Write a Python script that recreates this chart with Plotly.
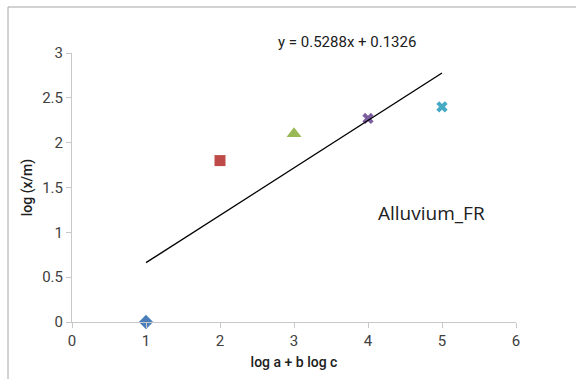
import plotly.graph_objects as go

x_vals = [1, 2, 3, 4, 5]
y_vals = [0.0, 1.80, 2.10, 2.27, 2.40]
colors = ["#4a7ebb", "#be4b48", "#98b954", "#7d5fa0", "#46aac5"]
symbols = ["diamond", "square", "triangle-up", "x", "x"]
sizes = [11, 11, 13, 10, 10]

slope = 0.5288
intercept = 0.1326
trend_x = [1, 5]

L, R, T, B = 72, 516, 53, 322
def px_to_dom(px, py):
    return (px - L) / (R - L), (B - py) / (B - T)

fig = go.Figure()
for xv, yv, c, s, sz in zip(x_vals, y_vals, colors, symbols, sizes):
    fig.add_trace(go.Scatter(x=[xv], y=[yv], mode="markers",
                             marker=dict(color=c, symbol=s, size=sz, line=dict(width=0)),
                             showlegend=False, cliponaxis=False))

fig.add_trace(go.Scatter(x=trend_x, y=[slope * t + intercept for t in trend_x], mode="lines",
                         line=dict(color="black", width=1.4), showlegend=False))

tick_font = dict(family="Roboto", size=15, color="#404040")
title_font = dict(family="Roboto", size=14, color="#202020", weight=500)

eq_x, eq_y = px_to_dom(347, 42)
al_x, al_y = px_to_dom(431, 213)

fig.update_layout(
    width=576, height=379,
    margin=dict(l=L, r=576 - R, t=T, b=379 - B),
    paper_bgcolor="white", plot_bgcolor="white",
    xaxis=dict(range=[0, 6], tickvals=[0, 1, 2, 3, 4, 5, 6], showgrid=False, zeroline=False,
               showline=True, linecolor="#c8c8c8", linewidth=1, ticks="outside", ticklen=5,
               tickcolor="#c8c8c8", tickfont=tick_font,
               title=dict(text="log a + b log c", font=title_font, standoff=8)),
    yaxis=dict(range=[0, 3], tickvals=[0, 0.5, 1, 1.5, 2, 2.5, 3],
               ticktext=["0", "0.5", "1", "1.5", "2", "2.5", "3"],
               showgrid=False, zeroline=False,
               showline=True, linecolor="#c8c8c8", linewidth=1, ticks="outside", ticklen=5,
               tickcolor="#c8c8c8", tickfont=tick_font,
               title=dict(text="log (x/m)", font=title_font, standoff=6)),
    annotations=[
        dict(text="y = 0.5288x + 0.1326", x=eq_x, y=eq_y, xref="paper", yref="paper",
             xanchor="center", yanchor="middle", showarrow=False,
             font=dict(family="Roboto", size=15, color="#202020")),
        dict(text="Alluvium_FR", x=al_x, y=al_y, xref="paper", yref="paper",
             xanchor="center", yanchor="middle", showarrow=False,
             font=dict(family="Open Sans", size=19, color="#202020")),
    ],
)

# outer light border (left and top edges)
bx0, by0 = px_to_dom(8, 7)
bx1, by1 = px_to_dom(576, 379)
fig.add_shape(type="line", xref="paper", yref="paper", x0=bx0, x1=bx0, y0=by0, y1=by1,
              line=dict(color="#a6a6a6", width=1))
fig.add_shape(type="line", xref="paper", yref="paper", x0=bx0, x1=bx1, y0=by0, y1=by0,
              line=dict(color="#a6a6a6", width=1))

fig.write_html("out.html")
